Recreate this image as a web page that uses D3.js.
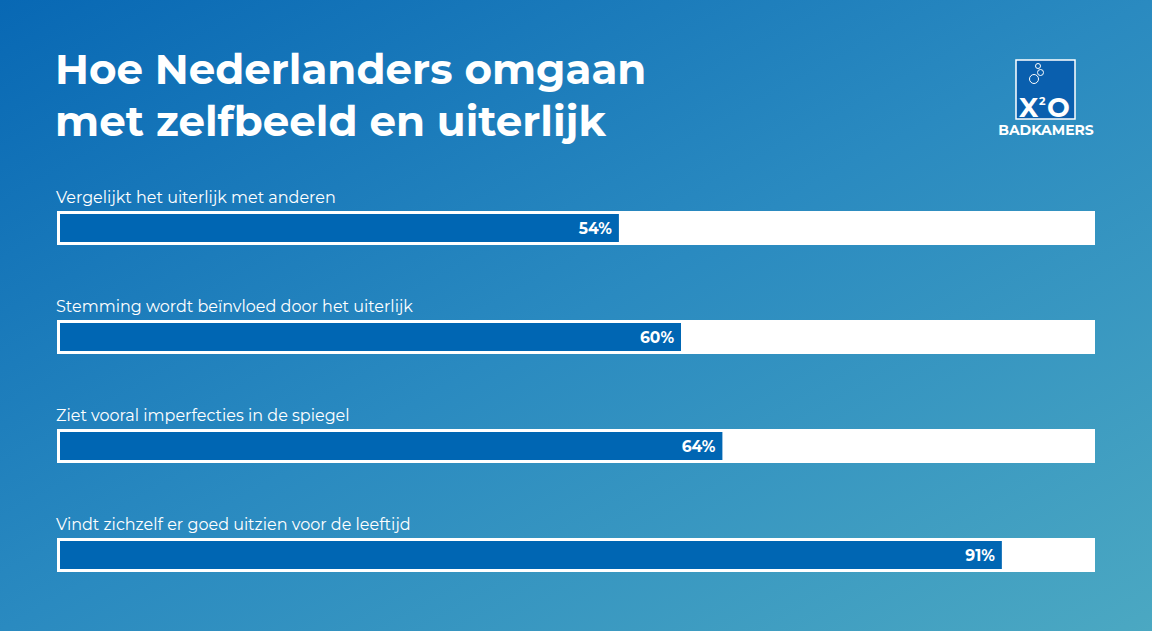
<!DOCTYPE html>
<html><head><meta charset="utf-8">
<script src="https://cdn.jsdelivr.net/npm/d3@7"></script>
<style>body{margin:0;overflow:hidden}</style>
</head><body><div id="chart"></div>
<script>
var categories = ["Vergelijkt het uiterlijk met anderen","Stemming wordt beïnvloed door het uiterlijk","Ziet vooral imperfecties in de spiegel","Vindt zichzelf er goed uitzien voor de leeftijd"];
var values = [54, 60, 64, 91];

var W = 1152, H = 631;
var svg = d3.select("#chart").append("svg").attr("width", W).attr("height", H);
var defs = svg.append("defs");
var g = defs.append("linearGradient").attr("id","bg").attr("x1","0").attr("y1","0").attr("x2","1").attr("y2","1");
g.append("stop").attr("offset","0").attr("stop-color","#0868b4");
g.append("stop").attr("offset","0.5").attr("stop-color","#2a8ac0");
g.append("stop").attr("offset","1").attr("stop-color","#4ba8c2");
svg.append("rect").attr("width",W).attr("height",H).attr("fill","url(#bg)");

var font = "Montserrat, 'Open Sans', Lato, sans-serif";
svg.append("text").attr("x",55).attr("y",84).attr("fill","#fff").attr("font-family",font)
    .attr("font-size",42).attr("font-weight","bold").text("Hoe Nederlanders omgaan");
svg.append("text").attr("x",55).attr("y",136).attr("fill","#fff").attr("font-family",font)
    .attr("font-size",42).attr("font-weight","bold").text("met zelfbeeld en uiterlijk");

// logo
var logo = svg.append("g").attr("transform","translate(1016,60)");
logo.append("rect").attr("width",59).attr("height",59).attr("fill","#0a5fae").attr("stroke","#fff").attr("stroke-width",1.5);
[[22,6,2.5],[24.5,12.5,3],[18,19,4.5]].forEach(function(c){
    logo.append("circle").attr("cx",c[0]).attr("cy",c[1]).attr("r",c[2]).attr("fill","none").attr("stroke","#fff").attr("stroke-width",1);
});
logo.append("text").attr("x",3).attr("y",57).attr("fill","#fff").attr("font-family",font).attr("font-size",27).attr("font-weight","bold").text("X");
logo.append("text").attr("x",23).attr("y",45).attr("fill","#fff").attr("font-family",font).attr("font-size",11).attr("font-weight","bold").text("2");
logo.append("text").attr("x",31).attr("y",57).attr("fill","#fff").attr("font-family",font).attr("font-size",27).attr("font-weight","bold").text("O");
svg.append("text").attr("x",1046).attr("y",135).attr("text-anchor","middle").attr("fill","#fff")
    .attr("font-family",font).attr("font-size",14).attr("font-weight","bold").text("BADKAMERS");

// bars
var y = d3.scaleBand().domain(categories).range([211, 211 + 4*109]).paddingInner(0);
var x = d3.scaleLinear().domain([0,100]).range([60,1095]);

var rows = svg.selectAll("g.row").data(categories).enter().append("g").attr("class","row")
    .attr("transform", function(d){ return "translate(0," + y(d) + ")"; });
rows.append("text").attr("x",56).attr("y",-8).attr("fill","#fff").attr("font-family",font)
    .attr("font-size",16).text(function(d){ return d; });
rows.append("rect").attr("x",57).attr("y",0).attr("width",1038).attr("height",34).attr("fill","#fff");
rows.append("rect").attr("x",x(0)).attr("y",3).attr("height",28).attr("fill","#0066b3")
    .attr("width", function(d,i){ return x(values[i]) - x(0); });
rows.append("text").attr("x",function(d,i){ return x(values[i]) - 7; }).attr("y",23)
    .attr("text-anchor","end").attr("fill","#fff").attr("font-family",font).attr("font-size",15.5).attr("font-weight","bold")
    .text(function(d,i){ return values[i] + "%"; });
</script></body></html>
